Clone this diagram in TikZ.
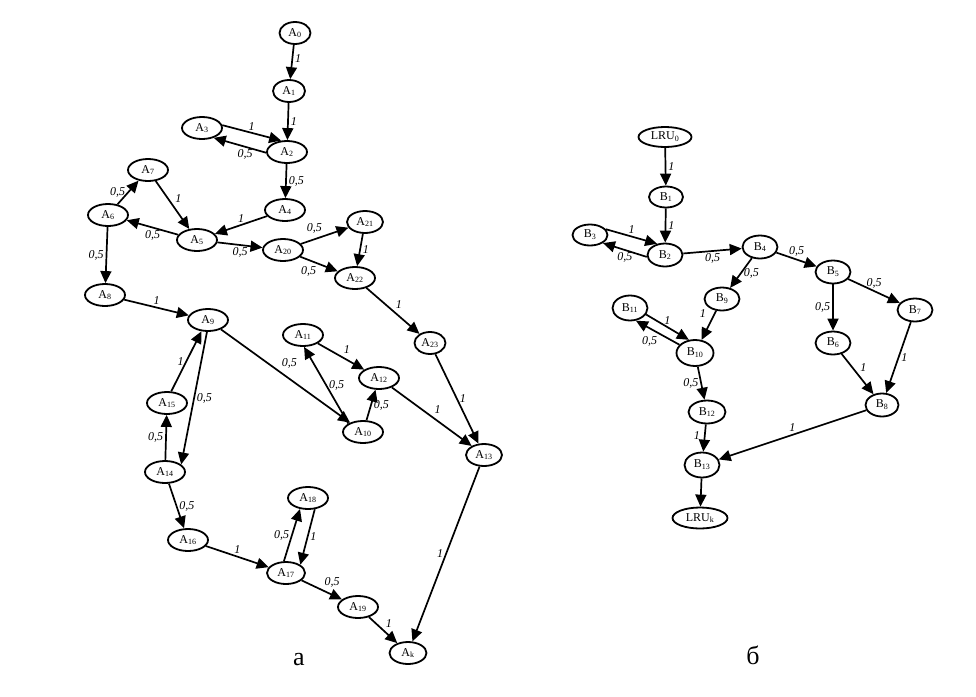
\documentclass[tikz,border=0pt]{standalone}
\usepackage{fontspec}
\setmainfont{Liberation Serif}
\usetikzlibrary{shapes.geometric,arrows.meta}
\tikzset{
  st/.style={draw, ellipse, line width=1.8pt, minimum width=40pt, minimum height=22pt, inner sep=0pt, font=\fontsize{12}{12}\selectfont},
  bst/.style={st, minimum width=35pt, minimum height=23pt},
  arr/.style={line width=1.7pt, -{Triangle[length=12pt,width=11pt]}},
  w/.style={font=\fontsize{12}{12}\selectfont\itshape, inner sep=2pt},
}
\begin{document}
\begin{tikzpicture}[x=1pt,y=-1pt]
    \useasboundingbox (0,0) rectangle (976,696);
    % graph a
    \node[st, minimum width=31pt] (A0) at (295,33){A\textsubscript{0}};
    \node[st, minimum width=32pt] (A1) at (289,91){A\textsubscript{1}};
    \node[st] (A2) at (287,152){A\textsubscript{2}};
    \node[st] (A3) at (202,128){A\textsubscript{3}};
    \node[st] (A4) at (285,210){A\textsubscript{4}};
    \node[st] (A5) at (197,240){A\textsubscript{5}};
    \node[st] (A6) at (108,215){A\textsubscript{6}};
    \node[st] (A7) at (148,170){A\textsubscript{7}};
    \node[st] (A8) at (105,295){A\textsubscript{8}};
    \node[st] (A9) at (208,320){A\textsubscript{9}};
    \node[st] (A10) at (363,432){A\textsubscript{10}};
    \node[st] (A11) at (303,335){A\textsubscript{11}};
    \node[st] (A12) at (379,378){A\textsubscript{12}};
    \node[st, minimum width=36pt] (A13) at (484,455){A\textsubscript{13}};
    \node[st] (A14) at (165,472){A\textsubscript{14}};
    \node[st] (A15) at (167,403){A\textsubscript{15}};
    \node[st] (A16) at (188,540){A\textsubscript{16}};
    \node[st, minimum width=38pt] (A17) at (286,573){A\textsubscript{17}};
    \node[st] (A18) at (308,498){A\textsubscript{18}};
    \node[st] (A19) at (358,607){A\textsubscript{19}};
    \node[st] (A20) at (283,250){A\textsubscript{20}};
    \node[st, minimum width=36pt] (A21) at (365,222){A\textsubscript{21}};
    \node[st] (A22) at (355,278){A\textsubscript{22}};
    \node[st, minimum width=31pt] (A23) at (430,343){A\textsubscript{23}};
    \node[st, minimum width=37pt] (Ak) at (408,653){A\textsubscript{k}};

    \draw[arr] (A0) -- node[w,right,pos=.4]{1} (A1);
    \draw[arr] (A1) -- node[w,right]{1} (A2);
    \draw[arr] (A3.8) -- node[w,above]{1} (A2.117);
    \draw[arr] (A2.182) -- node[w,below,pos=.4]{0,5} (A3.-40);
    \draw[arr] (A2) -- node[w,right]{0,5} (A4);
    \draw[arr] (A4) -- node[w,above]{1} (A5);
    \draw[arr] (A7) -- node[w,above right]{1} (A5);
    \draw[arr] (A6) -- node[w,left]{0,5} (A7);
    \draw[arr] (A5) -- node[w,below]{0,5} (A6);
    \draw[arr] (A5) -- node[w,below]{0,5} (A20);
    \draw[arr] (A6) -- node[w,left]{0,5} (A8);
    \draw[arr] (A20) -- node[w,above left]{0,5} (A21);
    \draw[arr] (A20) -- node[w,below left]{0,5} (A22);
    \draw[arr] (A21) -- node[w,right]{1} (A22);
    \draw[arr] (A22) -- node[w,above right]{1} (A23);
    \draw[arr] (A8) -- node[w,above]{1} (A9);
    \draw[arr] (A9) -- node[w,above right,pos=.45]{0,5} (A10);
    \draw[arr] (A10.150) -- node[w,right]{0,5} (A11.-85);
    \draw[arr] (A10) -- node[w,right]{0,5} (A12);
    \draw[arr] (A11) -- node[w,above right]{1} (A12);
    \draw[arr] (A12) -- node[w,above right]{1} (A13);
    \draw[arr] (A23) -- node[w,right]{1} (A13);
    \draw[arr] (A15.70) -- node[w,left]{1} (A9.-120);
    \draw[arr] (A9.-95) -- node[w,right]{0,5} (A14.25);
    \draw[arr] (A14) -- node[w,left]{0,5} (A15);
    \draw[arr] (A14) -- node[w,right]{0,5} (A16);
    \draw[arr] (A16) -- node[w,above]{1} (A17);
    \draw[arr] (A17.100) -- node[w,left]{0,5} (A18.-126);
    \draw[arr] (A18.-59) -- node[w,right]{1} (A17.30);
    \draw[arr] (A17) -- node[w,above right]{0,5} (A19);
    \draw[arr] (A19) -- node[w,above right]{1} (Ak);
    \draw[arr] (A13) -- node[w,left]{1} (Ak);

    \node[font=\fontsize{26}{26}\selectfont] (capA) at (299,660){а};

    % graph b
    \node[bst, minimum width=53pt, minimum height=20pt] (L0) at (665,137){LRU\textsubscript{0}};
    \node[bst, minimum width=34pt, minimum height=21pt] (B1) at (666,197){B\textsubscript{1}};
    \node[bst] (B2) at (665,255){B\textsubscript{2}};
    \node[bst, minimum height=21pt] (B3) at (590,235){B\textsubscript{3}};
    \node[bst] (B4) at (760,247){B\textsubscript{4}};
    \node[bst] (B5) at (833,272){B\textsubscript{5}};
    \node[bst] (B6) at (833,343){B\textsubscript{6}};
    \node[bst] (B7) at (915,310){B\textsubscript{7}};
    \node[bst, minimum width=33pt] (B8) at (882,405){B\textsubscript{8}};
    \node[bst] (B9) at (722,299){B\textsubscript{9}};
    \node[bst, minimum width=37pt, minimum height=26pt] (B10) at (695,353){B\textsubscript{10}};
    \node[bst, minimum height=25pt] (B11) at (630,308){B\textsubscript{11}};
    \node[bst, minimum width=37pt] (B12) at (707,412){B\textsubscript{12}};
    \node[bst, minimum height=25pt] (B13) at (702,465){B\textsubscript{13}};
    \node[bst, minimum width=55pt, minimum height=21pt] (Lk) at (700,518){LRU\textsubscript{k}};

    \draw[arr] (L0) -- node[w,right]{1} (B1);
    \draw[arr] (B1) -- node[w,right]{1} (B2);
    \draw[arr] (B3.20) -- node[w,above]{1} (B2.125);
    \draw[arr] (B2.186) -- node[w,below]{0,5} (B3.-32);
    \draw[arr] (B2) -- node[w,below]{0,5} (B4);
    \draw[arr] (B4) -- node[w,above]{0,5} (B5);
    \draw[arr] (B4) -- node[w,right]{0,5} (B9);
    \draw[arr] (B5) -- node[w,left]{0,5} (B6);
    \draw[arr] (B5) -- node[w,above]{0,5} (B7);
    \draw[arr] (B6) -- node[w,above right]{1} (B8);
    \draw[arr] (B7) -- node[w,right]{1} (B8);
    \draw[arr] (B9) -- node[w,left,pos=.1,xshift=-6pt]{1} (B10);
    \draw[arr] (B11.-22) -- node[w,above]{1} (B10.115);
    \draw[arr] (B10.152) -- node[w,below left,pos=.45]{0,5} (B11.-65);
    \draw[arr] (B10) -- node[w,left]{0,5} (B12);
    \draw[arr] (B12) -- node[w,left,pos=.4,xshift=-2pt]{1} (B13);
    \draw[arr] (B8) -- node[w,above]{1} (B13);
    \draw[arr] (B13) -- (Lk);

    \node[font=\fontsize{26}{26}\selectfont] (capB) at (753,655){б};
\end{tikzpicture}
\end{document}
